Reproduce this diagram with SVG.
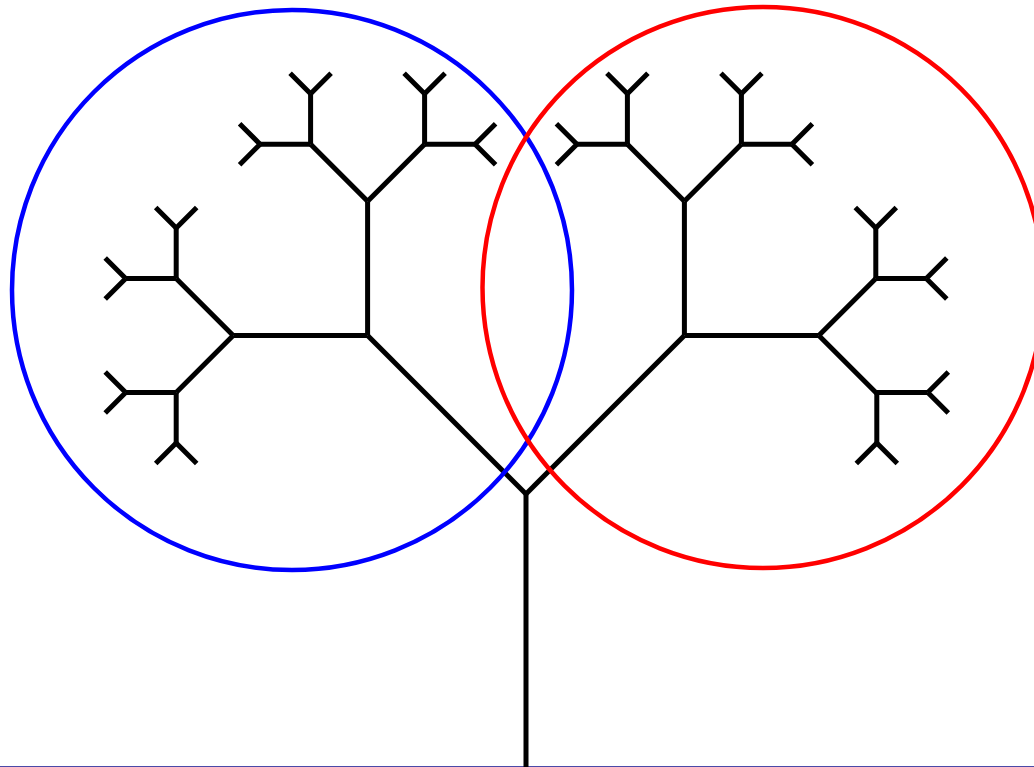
<svg xmlns="http://www.w3.org/2000/svg" width="1034" height="767" viewBox="0 0 1034 767">
<style>
.t{stroke:#000;stroke-width:5;stroke-linecap:butt;fill:none}
.c{fill:none;stroke-width:4.5}
</style>
<rect width="1034" height="767" fill="#fff"/>
<line id="ground" x1="0" y1="766.5" x2="1034" y2="766.5" stroke="#4a4aa8" stroke-width="1"/>
<g id="tree" class="t">
<line x1="526" y1="780" x2="526" y2="494"/>
<line x1="526" y1="494" x2="367.6" y2="335.6"/>
<line x1="526" y1="494" x2="684.4" y2="335.6"/>
<line x1="367.6" y1="335.6" x2="233.2" y2="335.6"/>
<line x1="367.6" y1="335.6" x2="367.6" y2="201.2"/>
<line x1="684.4" y1="335.6" x2="818.8" y2="335.6"/>
<line x1="684.4" y1="335.6" x2="684.4" y2="201.2"/>
<line x1="233.2" y1="335.6" x2="176.2" y2="278.6"/>
<line x1="233.2" y1="335.6" x2="176.2" y2="392.6"/>
<line x1="367.6" y1="201.2" x2="310.6" y2="144.2"/>
<line x1="367.6" y1="201.2" x2="424.6" y2="144.2"/>
<line x1="684.4" y1="201.2" x2="627.4" y2="144.2"/>
<line x1="684.4" y1="201.2" x2="741.4" y2="144.2"/>
<line x1="818.8" y1="335.6" x2="875.8" y2="278.6"/>
<line x1="818.8" y1="335.6" x2="876.8" y2="393.6"/>
<path d="M176.2 278.6H125.7M176.2 278.6V228.1M176.2 392.6H125.7M176.2 392.6V443.1M310.6 144.2H260.1M310.6 144.2V93.7M424.6 144.2V93.7M424.6 144.2H475.1M627.4 144.2H576.9M627.4 144.2V93.7M741.4 144.2V93.7M741.4 144.2H791.9M875.8 278.6V228.1M875.8 278.6H926.3M876.8 392.6H927.8M876.8 392.6V443.1"/>
<path d="M125.7 278.6l-20.5 -20.5M125.7 278.6l-20.5 20.5M176.2 228.1l-20.5 -20.5M176.2 228.1l20.5 -20.5M125.7 392.6l-20.5 -20.5M125.7 392.6l-20.5 20.5M176.2 443.1l-20.5 20.5M176.2 443.1l20.5 20.5M260.1 144.2l-20.5 -20.5M260.1 144.2l-20.5 20.5M310.6 93.7l-20.5 -20.5M310.6 93.7l20.5 -20.5M424.6 93.7l-20.5 -20.5M424.6 93.7l20.5 -20.5M475.1 144.2l20.5 -20.5M475.1 144.2l20.5 20.5M576.9 144.2l-20.5 -20.5M576.9 144.2l-20.5 20.5M627.4 93.7l-20.5 -20.5M627.4 93.7l20.5 -20.5M741.4 93.7l-20.5 -20.5M741.4 93.7l20.5 -20.5M791.9 144.2l20.5 -20.5M791.9 144.2l20.5 20.5M875.8 228.1l-20.5 -20.5M875.8 228.1l20.5 -20.5M926.3 278.6l20.5 -20.5M926.3 278.6l20.5 20.5M927.8 392.6l20.5 -20.5M927.8 392.6l20.5 20.5M876.8 443.1l-20.5 20.5M876.8 443.1l20.5 20.5"/>
</g>
<circle id="blue-circle" class="c" cx="292" cy="290" r="280" stroke="#0000ff"/>
<circle id="red-circle" class="c" cx="763" cy="287.5" r="280.5" stroke="#ff0000"/>
</svg>
